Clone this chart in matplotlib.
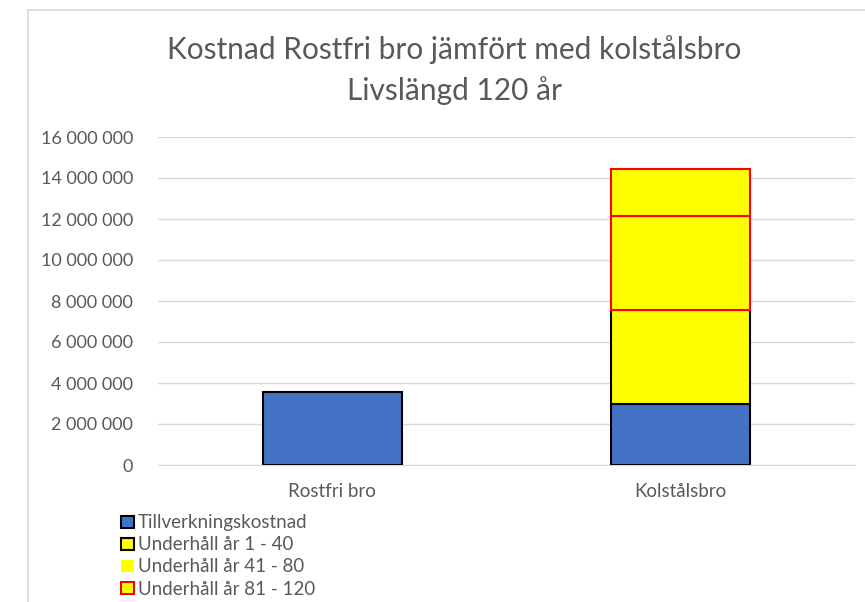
import numpy as np
import matplotlib
matplotlib.use("Agg")
import matplotlib.pyplot as plt
from matplotlib.patches import Patch
from matplotlib.lines import Line2D
from matplotlib.ticker import FuncFormatter

plt.rcParams['font.family'] = ['Lato', 'DejaVu Sans']

# data
categories = ["Rostfri bro", "Kolstålsbro"]
tillverkning = [3580000, 3000000]
underhall_1_40 = [0, 4560000]
underhall_41_80 = [0, 4590000]
underhall_81_120 = [0, 2290000]
series_names = ["Tillverkningskostnad", "Underhåll år 1 - 40",
                "Underhåll år 41 - 80", "Underhåll år 81 - 120"]
yticks = np.arange(0, 16000001, 2000000)

blue = "#4472C4"
yellow = "#FFFF00"
red = "#FF0000"
grey_text = "#595959"
grid_col = "#D9D9D9"

fig = plt.figure(figsize=(8.65, 6.02), dpi=100)
ax = fig.add_axes([158/865, 1-465/602, (855-158)/865, (465-137)/602])

x = np.arange(len(categories))
width = 0.4
series = [tillverkning, underhall_1_40, underhall_41_80, underhall_81_120]
faces = [blue, yellow, yellow, yellow]
edges = ["black", "black", red, red]

bottom = np.zeros(len(categories))
for vals, fc, ec in zip(series, faces, edges):
    vals = np.array(vals, dtype=float)
    keep = vals > 0
    ax.bar(x[keep], vals[keep], width, bottom=bottom[keep], color=fc,
           edgecolor=ec, linewidth=1.5, zorder=3)
    bottom += vals

ax.set_xlim(-0.5, 1.5)
ax.set_ylim(0, 16000000)
ax.set_yticks(yticks)
ax.yaxis.set_major_formatter(FuncFormatter(lambda v, p: f"{int(v):,}".replace(",", " ")))
ax.set_xticks(x)
ax.set_xticklabels(categories)
ax.tick_params(axis='both', length=0, colors=grey_text)
ax.tick_params(axis='y', pad=18, labelsize=13)
ax.tick_params(axis='x', pad=13, labelsize=13.5)
ax.grid(axis='y', color=grid_col, linewidth=1, zorder=0)
for s in ['top', 'right', 'left']:
    ax.spines[s].set_visible(False)
ax.spines['bottom'].set_color(grid_col)

fig.text(0.525, 1-50/602, "Kostnad Rostfri bro jämfört med kolstålsbro",
         ha='center', va='center', fontsize=21.5, color=grey_text)
fig.text(0.525, 1-91/602, "Livslängd 120 år",
         ha='center', va='center', fontsize=21.5, color=grey_text)

handles = [
    Patch(facecolor=blue, edgecolor='black', linewidth=1.5),
    Patch(facecolor=yellow, edgecolor='black', linewidth=1.5),
    Patch(facecolor=yellow, edgecolor='none'),
    Patch(facecolor=yellow, edgecolor=red, linewidth=1.5),
]
leg = fig.legend(handles, series_names, loc='upper left',
                 bbox_to_anchor=(112/865, 1-505/602), frameon=False,
                 fontsize=13.5, handlelength=0.65, handleheight=0.65,
                 handletextpad=0.25, labelspacing=0.27, borderpad=0)
for t in leg.get_texts():
    t.set_color(grey_text)

# chart area border (left and top visible)
fig.add_artist(Line2D([28/865, 28/865], [0, 1-10/602], color=grid_col, lw=1.2))
fig.add_artist(Line2D([28/865, 1], [1-10/602, 1-10/602], color=grid_col, lw=1.2))

fig.savefig("out.png", dpi=100)
